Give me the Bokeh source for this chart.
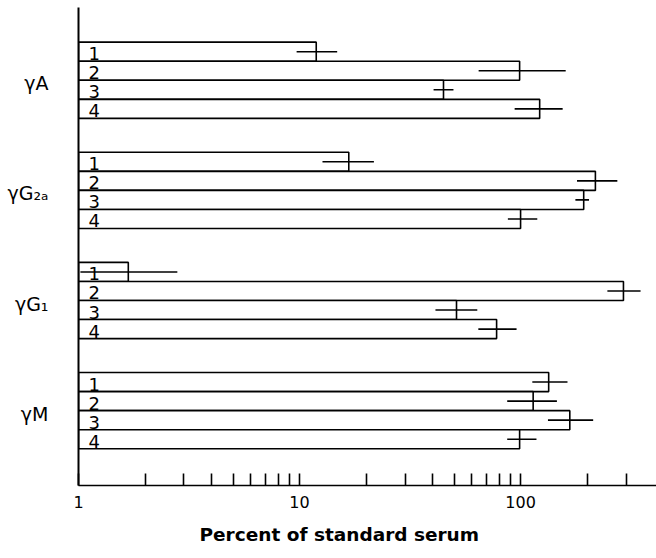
from bokeh.plotting import figure
from bokeh.models import Range1d, FixedTicker, ColumnDataSource, NumeralTickFormatter, Title
from bokeh.core.properties import value
from bokeh.embed import file_html
from bokeh.resources import INLINE

# ---- data ----
group_labels = ["γA", "γG₂ₐ", "γG₁", "γM"]
bar_names = ["1", "2", "3", "4"]

val_gA = [11.9, 99, 44.8, 122]
val_gG2a = [16.7, 218, 193, 100]
val_gG1 = [1.68, 292, 51.3, 77.9]
val_gM = [134, 114, 167, 99]

lo_gA = [9.7, 64.6, 40.4, 94]
lo_gG2a = [12.7, 180, 177, 87.6]
lo_gG1 = [1.02, 247, 41.2, 64.4]
lo_gM = [113, 87, 133, 87]

hi_gA = [14.8, 160, 49.7, 155]
hi_gG2a = [21.7, 274, 204, 119]
hi_gG1 = [2.8, 349, 63.7, 95.9]
hi_gM = [163, 146, 213, 118]

major_ticks = [1, 10, 100]
minor_ticks = [2, 3, 4, 5, 6, 7, 8, 9, 20, 30, 40, 50, 60, 70, 80, 90, 200, 300]

x_label = "Percent of standard serum"

# ---- layout ----
GROUP_STEP = 5.78
vals = [val_gA, val_gG2a, val_gG1, val_gM]
los = [lo_gA, lo_gG2a, lo_gG1, lo_gM]
his = [hi_gA, hi_gG2a, hi_gG1, hi_gM]

ys, vs, ls, hs, ds = [], [], [], [], []
for g in range(4):
    for k in range(4):
        ys.append(g * GROUP_STEP + k)
        vs.append(vals[g][k])
        ls.append(los[g][k])
        hs.append(his[g][k])
        ds.append(bar_names[k])

src = ColumnDataSource(dict(y=ys, v=vs, lo=ls, hi=hs, d=ds))

p = figure(width=656, height=558, x_axis_type="log",
           x_range=Range1d(1, 412), y_range=Range1d(22.77, -2.32),
           output_backend="svg", toolbar_location=None,
           min_border_left=78, min_border_right=0, min_border_top=7, min_border_bottom=73)
p.outline_line_color = None
p.grid.visible = False
p.background_fill_color = "white"

p.hbar(y="y", left=1, right="v", height=1, fill_color="white", line_color="black",
       line_width=1.6, source=src)
p.segment(x0="lo", y0="y", x1="hi", y1="y", line_color="black", line_width=1.6, source=src)
p.text(x=1, y="y", text="d", x_offset=10, y_offset=2, text_font=value("DejaVu Sans"),
       text_font_size="18px", text_baseline="middle", text_align="left",
       text_color="black", source=src)

# x axis
ax = p.xaxis[0]
ax.ticker = FixedTicker(ticks=major_ticks, minor_ticks=minor_ticks)
ax.formatter = NumeralTickFormatter(format="0")
ax.major_tick_in = 12
ax.major_tick_out = 0
ax.minor_tick_in = 12
ax.minor_tick_out = 0
ax.axis_line_width = 1.6
ax.major_tick_line_width = 1.6
ax.minor_tick_line_width = 1.6
ax.major_label_text_font = "DejaVu Sans"
ax.major_label_text_font_size = "16px"
ax.major_label_text_color = "black"
ax.major_label_standoff = 10

# y axis: line plus group names
centers = [g * GROUP_STEP + 1.5 + 0.16 for g in range(4)]
ay = p.yaxis[0]
ay.ticker = FixedTicker(ticks=centers)
ay.major_label_overrides = {c: t for c, t in zip(centers, group_labels)}
ay.major_tick_in = 0
ay.major_tick_out = 0
ay.minor_tick_in = 0
ay.minor_tick_out = 0
ay.major_label_standoff = 30
ay.major_label_text_font = "DejaVu Sans"
ay.major_label_text_font_size = "19px"
ay.major_label_text_color = "black"
ay.axis_line_width = 2

# x axis title
p.add_layout(Title(text=x_label, align="left", offset=121, standoff=22,
                   text_font="DejaVu Sans", text_font_style="bold",
                   text_font_size="18.5px", text_color="black"), "below")

open("out.html", "w").write(file_html(p, INLINE))
